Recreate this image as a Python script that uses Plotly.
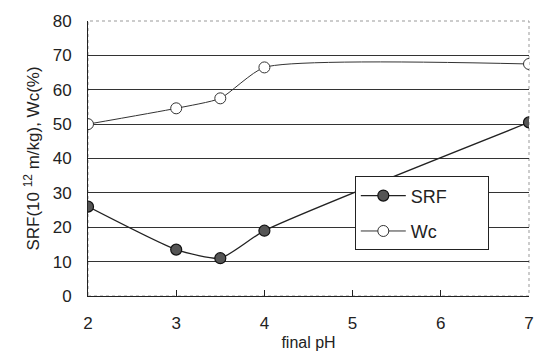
import plotly.graph_objects as go

ph_srf = [2, 3, 3.5, 4, 7]
srf = [26, 13.5, 11, 19, 50.5]
ph_wc = [2, 3, 3.5, 4, 7]
wc = [50, 54.6, 57.5, 66.5, 67.5]

x_ticks = [2, 3, 4, 5, 6, 7]
y_ticks = [0, 10, 20, 30, 40, 50, 60, 70, 80]

NB = "\u00a0"
fig = go.Figure()
fig.add_trace(go.Scatter(
    x=ph_srf, y=srf, name="SRF" + NB * 7, mode="lines+markers", legendgroup="a",
    line=dict(color="#222", width=1.3, shape="spline", smoothing=0.55),
    marker=dict(size=11, color="#555", line=dict(color="#111", width=1.2)),
))
fig.add_trace(go.Scatter(
    x=ph_wc, y=wc, name="Wc" + NB * 7, mode="lines+markers", legendgroup="b",
    line=dict(color="#333", width=1, shape="spline", smoothing=0.55),
    marker=dict(size=11, color="white", line=dict(color="#333", width=1)),
))

fig.update_layout(
    width=546, height=362,
    margin=dict(l=88, r=12, t=15, b=66),
    paper_bgcolor="white", plot_bgcolor="white",
    font=dict(family="Liberation Sans, Arial, sans-serif", color="#222", size=17),
    showlegend=True,
    legend=dict(x=0.605, y=0.435, xanchor="left", yanchor="top",
                bgcolor="white", bordercolor="#222", borderwidth=1,
                font=dict(size=18), itemwidth=45, tracegroupgap=9),
    xaxis=dict(range=[2, 7], tickvals=x_ticks, ticks="inside", ticklen=6,
               tickcolor="#222", showgrid=False, zeroline=False,
               showline=True, linecolor="#222", linewidth=1, mirror=False,
               ticklabelstandoff=12, tickfont=dict(size=17),
               title=dict(text="final pH", standoff=4, font=dict(size=16))),
    yaxis=dict(range=[0, 80], tickvals=y_ticks, ticks="", showgrid=True,
               gridcolor="#333", gridwidth=1, zeroline=False,
               showline=True, linecolor="#222", linewidth=1,
               ticklabelstandoff=12, tickfont=dict(size=17),
               title=dict(text="SRF(10 <sup>12</sup> m/kg), Wc(%)", standoff=8,
                          font=dict(size=17))),
)
fig.add_shape(type="rect", xref="paper", yref="paper", x0=0, x1=1, y0=0, y1=1,
              line=dict(color="#999", width=1, dash="dot"), layer="below")
fig.write_html("out.html")
